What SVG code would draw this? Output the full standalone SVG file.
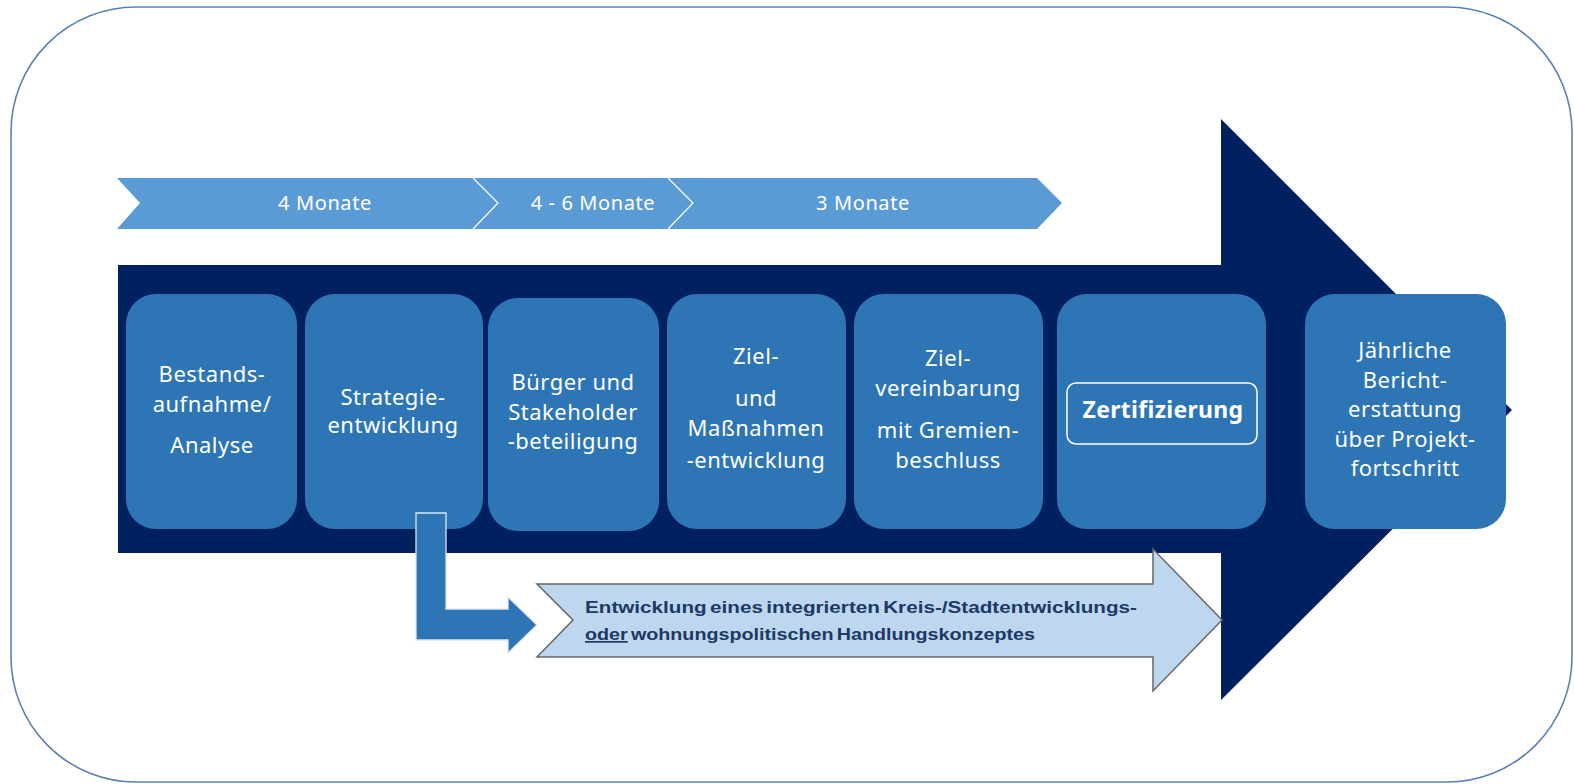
<svg xmlns="http://www.w3.org/2000/svg" width="1574" height="784" viewBox="0 0 1574 784">
<defs>
<style>
.frame{fill:#fff;stroke:#5A82B0;stroke-width:1.6}
.band{fill:#5B9BD5}
.div{fill:none;stroke:#fff;stroke-width:1.2}
.band-t{font-family:"Noto Sans","Open Sans",sans-serif;font-size:20px;fill:#fff;text-anchor:middle;letter-spacing:0.6px}
.main{fill:#002060}
.box{fill:#2E75B6}
.bt{font-family:"Noto Sans","Open Sans",sans-serif;font-size:22px;fill:#fff;text-anchor:middle;letter-spacing:0.5px}
.bold{font-weight:bold;font-size:23px;letter-spacing:0.3px}
.cert{fill:none;stroke:#fff;stroke-width:1.5}
.lar{fill:#2E75B6;stroke:#dfe7f0;stroke-width:1.3}
.sub{fill:#BDD7EE;stroke:#666;stroke-width:1.5}
.st{font-family:"Liberation Sans",Arial,sans-serif;font-size:17px;font-weight:bold;fill:#203864;word-spacing:-2px}
</style>
</defs>
<rect class="frame" x="11" y="7" width="1561" height="775" rx="125" ry="125"/>
<g id="timeline">
<polygon class="band" points="117,178 1037,178 1062,203 1037,229 117,229 140,203"/>
<polyline class="div" points="473,178 498,203 473,229"/>
<polyline class="div" points="668,178 693,203 668,229"/>
<text class="band-t" x="325" y="210">4 Monate</text>
<text class="band-t" x="593" y="210">4 - 6 Monate</text>
<text class="band-t" x="863" y="210">3 Monate</text>
</g>
<g id="main-arrow">
<polygon class="main" points="118,265 1221,265 1221,119 1512,410 1221,700 1221,553 118,553"/>
</g>
<g id="n1">
<rect class="box" x="126" y="294" width="171" height="235" rx="30"/>
<text class="bt" x="212" y="382">Bestands-</text>
<text class="bt" x="212" y="412">aufnahme/</text>
<text class="bt" x="212" y="453">Analyse</text>
</g>
<g id="n2">
<rect class="box" x="305" y="294" width="178" height="235" rx="30"/>
<text class="bt" x="393" y="405">Strategie-</text>
<text class="bt" x="393" y="433">entwicklung</text>
</g>
<g id="n3">
<rect class="box" x="488" y="298" width="171" height="233" rx="30"/>
<text class="bt" x="573" y="390">Bürger und</text>
<text class="bt" x="573" y="420">Stakeholder</text>
<text class="bt" x="573" y="449">-beteiligung</text>
</g>
<g id="n4">
<rect class="box" x="667" y="294" width="179" height="235" rx="30"/>
<text class="bt" x="756" y="364">Ziel-</text>
<text class="bt" x="756" y="406">und</text>
<text class="bt" x="756" y="436">Maßnahmen</text>
<text class="bt" x="756" y="468">-entwicklung</text>
</g>
<g id="n5">
<rect class="box" x="854" y="294" width="189" height="235" rx="30"/>
<text class="bt" x="948" y="366">Ziel-</text>
<text class="bt" x="948" y="396">vereinbarung</text>
<text class="bt" x="948" y="438">mit Gremien-</text>
<text class="bt" x="948" y="468">beschluss</text>
</g>
<g id="n6">
<rect class="box" x="1057" y="294" width="209" height="235" rx="30"/>
<rect class="cert" x="1067" y="383" width="190" height="61" rx="9"/>
<text class="bt bold" x="1163" y="418">Zertifizierung</text>
</g>
<g id="n7">
<rect class="box" x="1305" y="294" width="201" height="235" rx="30"/>
<text class="bt" x="1405" y="358">Jährliche</text>
<text class="bt" x="1405" y="388">Bericht-</text>
<text class="bt" x="1405" y="417">erstattung</text>
<text class="bt" x="1405" y="447">über Projekt-</text>
<text class="bt" x="1405" y="476">fortschritt</text>
</g>
<g id="connectors">
<polygon class="lar" points="416,513 446,513 446,609 508,609 508,597 537,625 508,653 508,640 416,640"/>
</g>
<g id="n8">
<polygon class="sub" points="537,584 1153,584 1153,549 1222,620 1153,691 1153,657 537,657 573,620"/>
<text class="st" x="585" y="613" textLength="552" lengthAdjust="spacingAndGlyphs">Entwicklung eines integrierten Kreis-/Stadtentwicklungs-</text>
<text class="st" x="585" y="640" textLength="450" lengthAdjust="spacingAndGlyphs"><tspan text-decoration="underline">oder</tspan> wohnungspolitischen Handlungskonzeptes</text>
</g>
</svg>
